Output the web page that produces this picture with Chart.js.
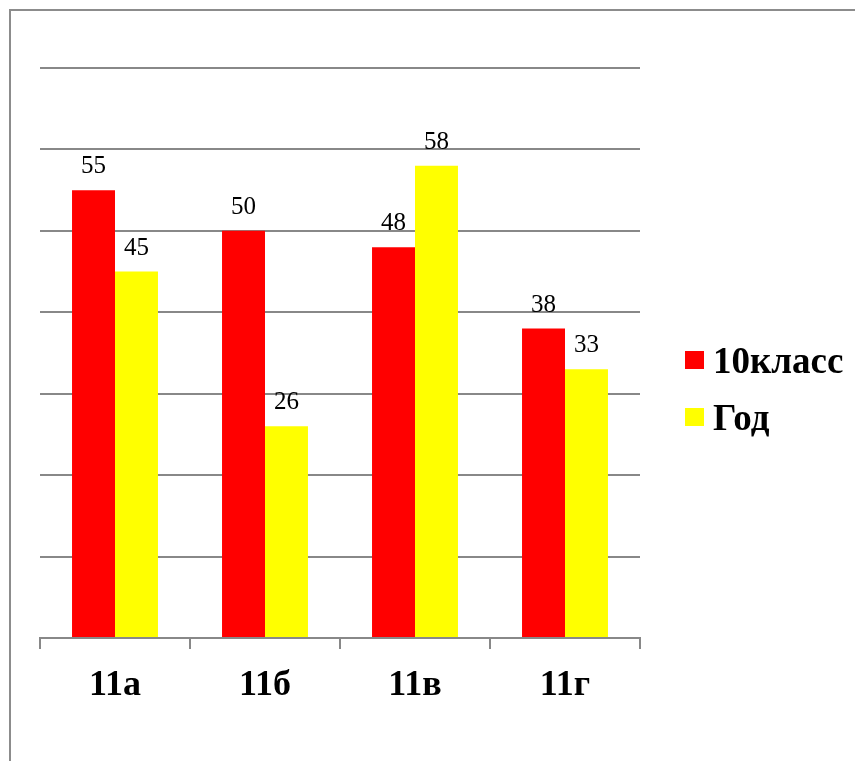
<!DOCTYPE html>
<html>
<head>
<meta charset="utf-8">
<script src="https://cdn.jsdelivr.net/npm/chart.js@4"></script>
<style>
    html, body { margin: 0; padding: 0; background: #fff; overflow: hidden; }
    #wrap { position: relative; width: 855px; height: 761px; }
    #frame { position: absolute; left: 9px; top: 9px; width: 900px; height: 800px; border: 2px solid #8c8c8c; }
    #chart { position: absolute; left: 0; top: 0; }
</style>
</head>
<body>
<div id="wrap">
    <div id="frame"></div>
    <canvas id="chart" width="855" height="761"></canvas>
</div>
<script>
// Dane wykresu
const classes = ['11а', '11б', '11в', '11г'];
const seriesNames = ['10класс', 'Год'];
const grade10 = [55, 50, 48, 38];
const yearValues = [45, 26, 58, 33];
const seriesColors = ['#ff0000', '#ffff00'];
const yTicks = [0, 10, 20, 30, 40, 50, 60, 70];

const gridColor = '#888888';
const serif = '"Liberation Serif", "Times New Roman", serif';

// Etykiety wartości nad słupkami
const valueLabels = {
    id: 'valueLabels',
    afterDatasetsDraw(chart) {
        const ctx = chart.ctx;
        ctx.save();
        ctx.font = '25px ' + serif;
        ctx.fillStyle = '#000';
        ctx.textAlign = 'center';
        ctx.textBaseline = 'alphabetic';
        chart.data.datasets.forEach((ds, i) => {
            chart.getDatasetMeta(i).data.forEach((bar, j) => {
                ctx.fillText(ds.data[j], bar.x, bar.y - 17);
            });
        });
        ctx.restore();
    }
};

// Legenda po prawej stronie
const sideLegend = {
    id: 'sideLegend',
    afterDraw(chart) {
        const ctx = chart.ctx;
        ctx.save();
        ctx.font = 'bold 37px ' + serif;
        ctx.textBaseline = 'middle';
        ctx.textAlign = 'left';
        chart.data.datasets.forEach((ds, i) => {
            const y = 360 + i * 57;
            ctx.fillStyle = ds.backgroundColor;
            ctx.fillRect(685, y - 9, 19, 18);
            ctx.fillStyle = '#000';
            ctx.fillText(ds.label, 713, y + 3);
        });
        ctx.restore();
    }
};

const ctx = document.getElementById('chart').getContext('2d');
new Chart(ctx, {
    type: 'bar',
    data: {
        labels: classes,
        datasets: [
            { label: seriesNames[0], data: grade10, backgroundColor: seriesColors[0] },
            { label: seriesNames[1], data: yearValues, backgroundColor: seriesColors[1] }
        ]
    },
    options: {
        responsive: false,
        animation: false,
        categoryPercentage: 0.573,
        barPercentage: 1,
        layout: { padding: { left: 40, right: 215, top: 68, bottom: 23 } },
        plugins: {
            legend: { display: false },
            tooltip: { enabled: false }
        },
        scales: {
            x: {
                grid: {
                    offset: true,
                    drawOnChartArea: false,
                    drawTicks: true,
                    tickLength: 11,
                    color: gridColor,
                    lineWidth: 2
                },
                border: { color: gridColor, width: 2 },
                ticks: {
                    color: '#000',
                    padding: 15,
                    font: { family: serif, size: 36, weight: 'bold' }
                },
                afterFit(scale) { scale.height = 100; }
            },
            y: {
                min: yTicks[0],
                max: yTicks[yTicks.length - 1],
                afterBuildTicks(scale) { scale.ticks = yTicks.map(v => ({ value: v })); },
                ticks: { display: false },
                grid: { color: gridColor, lineWidth: 2, drawTicks: false },
                border: { display: false },
                afterFit(scale) { scale.width = 0; }
            }
        }
    },
    plugins: [valueLabels, sideLegend]
});
</script>
</body>
</html>
